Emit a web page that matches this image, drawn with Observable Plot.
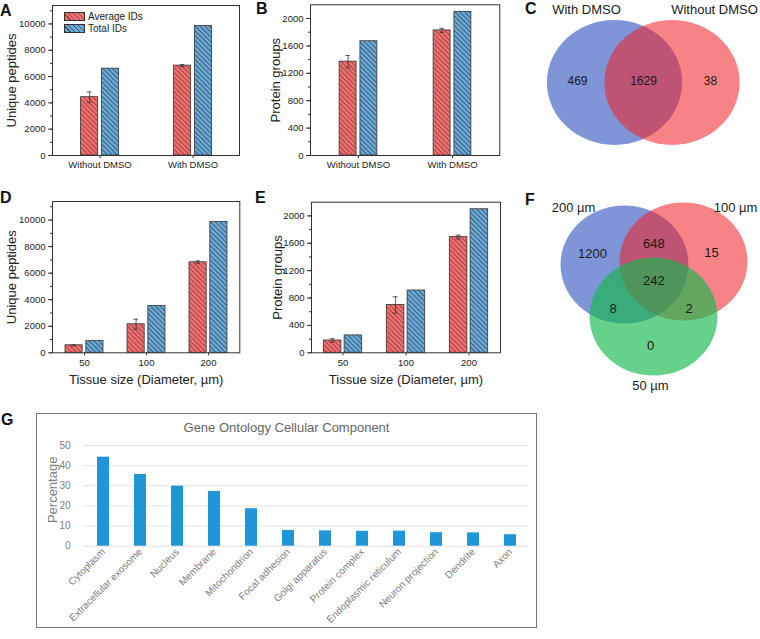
<!DOCTYPE html>
<html><head><meta charset="utf-8">
<script src="https://cdn.jsdelivr.net/npm/d3@7"></script>
<script src="https://cdn.jsdelivr.net/npm/@observablehq/plot@0.6"></script>
<style>
body{margin:0;background:#fff;font-family:"Liberation Sans",Arial,sans-serif;}
#fig{position:relative;width:760px;height:639px;overflow:hidden;background:#fff;}
.letter{position:absolute;font-weight:bold;font-size:16px;line-height:16px;color:#111;}
.sw{position:absolute;width:21px;height:9px;border:0.8px solid #333;box-sizing:border-box;}
.lt{position:absolute;font-size:10px;line-height:10px;color:#222;white-space:nowrap;}
</style></head>
<body><div id="fig"></div>
<script>
// ---------- data ----------
const dmsoGroups = ["Without DMSO", "With DMSO"];
const pepAvgDmso = [4430, 6830];
const pepErrDmso = [400, 80];
const pepTotDmso = [6600, 9850];
const protAvgDmso = [1370, 1826];
const protErrDmso = [90, 30];
const protTotDmso = [1668, 2096];

const sizeGroups = ["50", "100", "200"];
const pepAvgSize = [565, 2150, 6820];
const pepErrSize = [40, 380, 100];
const pepTotSize = [890, 3520, 9850];
const protAvgSize = [180, 698, 1690];
const protErrSize = [25, 120, 28];
const protTotSize = [254, 910, 2097];

const pepTicks = [0, 2000, 4000, 6000, 8000, 10000];
const protTicks = [0, 400, 800, 1200, 1600, 2000];
const seriesNames = ["Average IDs", "Total IDs"];

const vennCSets = ["With DMSO", "Without DMSO"];
const vennCCounts = [469, 1629, 38];
const vennFSets = ["200 µm", "100 µm", "50 µm"];
const vennFCounts = [1200, 648, 15, 242, 8, 2, 0];

const goTerms = ["Cytoplasm", "Extracellular exosome", "Nucleus", "Membrane", "Mitochondrion",
  "Focal adhesion", "Golgi apparatus", "Protein complex", "Endoplasmic reticulum",
  "Neuron projection", "Dendrite", "Axon"];
const goPct = [44.2, 35.6, 29.8, 27.2, 18.6, 7.8, 7.6, 7.4, 7.5, 6.7, 6.6, 5.7];
const goTicks = [0, 10, 20, 30, 40, 50];
const goTitle = "Gene Ontology Cellular Component";

// ---------- helpers ----------
const fig = document.getElementById("fig");
const NS = "http://www.w3.org/2000/svg";
const FONT = "'Liberation Sans', Arial, sans-serif";

function addPatterns(svg, id) {
  const defs = document.createElementNS(NS, "defs");
  defs.innerHTML =
    `<pattern id="hr-${id}" patternUnits="userSpaceOnUse" width="3.4" height="3.4" patternTransform="rotate(-45)">
       <rect width="3.4" height="3.4" fill="#ec7272"/>
       <line x1="0.5" y1="0" x2="0.5" y2="3.4" stroke="#a83838" stroke-width="0.9"/>
     </pattern>
     <pattern id="hb-${id}" patternUnits="userSpaceOnUse" width="3.4" height="3.4" patternTransform="rotate(-45)">
       <rect width="3.4" height="3.4" fill="#6fa9d6"/>
       <line x1="0.5" y1="0" x2="0.5" y2="3.4" stroke="#2c5674" stroke-width="0.9"/>
     </pattern>`;
  svg.insertBefore(defs, svg.firstChild);
}

function pos(left, top) {
  return {position: "absolute", left: left + "px", top: top + "px", background: "transparent",
    fontFamily: FONT, fontSize: "9.5px", color: "#222", overflow: "visible"};
}

function groupedBars(c) {
  const rows = c.groups.map((g, i) => ({group: g, avg: c.avg[i], err: c.err[i], tot: c.tot[i]}));
  const pw = c.width - c.ml - c.mr;
  const h = pw / c.groups.length / 2;
  const barW = 17.6, gap = 1.6;
  const redC = -(gap + barW / 2);
  const minor = d3.range(0, c.yMax, c.minorStep);
  const marks = [
    Plot.barY(rows, {x: "group", y: "avg", fill: `url(#hr-${c.id})`, stroke: "#333", strokeWidth: 0.8,
      insetLeft: h - gap - barW, insetRight: h + gap}),
    Plot.barY(rows, {x: "group", y: "tot", fill: `url(#hb-${c.id})`, stroke: "#333", strokeWidth: 0.8,
      insetLeft: h + gap, insetRight: h - gap - barW}),
    Plot.ruleX(rows, {x: "group", y1: d => d.avg - d.err, y2: d => d.avg + d.err, dx: redC, stroke: "#333", strokeWidth: 0.8}),
    Plot.tickY(rows, {x: "group", y: d => d.avg + d.err, insetLeft: h + redC - 2.5, insetRight: h - redC - 2.5, stroke: "#333", strokeWidth: 0.8}),
    Plot.tickY(rows, {x: "group", y: d => d.avg - d.err, insetLeft: h + redC - 2.5, insetRight: h - redC - 2.5, stroke: "#333", strokeWidth: 0.8}),
    Plot.frame({stroke: "#333", strokeWidth: 1}),
    Plot.axisY({ticks: minor, tickSize: 2, tickFormat: () => "", label: null, stroke: "#333"}),
    Plot.axisY({ticks: c.yTicks, tickSize: 4, tickPadding: 3, tickFormat: d => String(d), label: null, fontSize: 9.5, stroke: "#333"}),
    Plot.axisX({tickSize: 3, tickPadding: 3, label: null, fontSize: c.xFont, stroke: "#333"}),
    Plot.text([c.yLabel], {text: d => d, frameAnchor: "left", textAnchor: "middle", rotate: -90, lineAnchor: "top", dx: -c.labelOffset, fontSize: 13, fill: "#222"})
  ];
  if (c.xLabel) marks.push(Plot.text([c.xLabel], {text: d => d, frameAnchor: "bottom", textAnchor: "middle", lineAnchor: "bottom", dy: c.xLabelOffset, fontSize: 13, fill: "#222"}));
  const svg = Plot.plot({
    width: c.width, height: c.height,
    marginLeft: c.ml, marginRight: c.mr, marginTop: c.mt, marginBottom: c.mb,
    x: {type: "band", domain: c.groups, padding: 0},
    y: {domain: [0, c.yMax]},
    style: pos(c.left, c.top),
    marks
  });
  addPatterns(svg, c.id);
  fig.appendChild(svg);
}

groupedBars({id: "A", left: 0, top: 0, width: 250, height: 190, ml: 52, mr: 11, mt: 5, mb: 35,
  groups: dmsoGroups, avg: pepAvgDmso, err: pepErrDmso, tot: pepTotDmso,
  yMax: 11400, yTicks: pepTicks, minorStep: 1000, yLabel: "Unique peptides", labelOffset: 46, xFont: 9.5});
groupedBars({id: "B", left: 250, top: 0, width: 252, height: 190, ml: 60, mr: 2.7, mt: 4.3, mb: 35,
  groups: dmsoGroups, avg: protAvgDmso, err: protErrDmso, tot: protTotDmso,
  yMax: 2200, yTicks: protTicks, minorStep: 200, yLabel: "Protein groups", labelOffset: 40, xFont: 9.5});
groupedBars({id: "D", left: 0, top: 190, width: 250, height: 200, ml: 52, mr: 10.7, mt: 11, mb: 37.7,
  groups: sizeGroups, avg: pepAvgSize, err: pepErrSize, tot: pepTotSize,
  yMax: 11400, yTicks: pepTicks, minorStep: 1000, yLabel: "Unique peptides", labelOffset: 46, xFont: 9.5,
  xLabel: "Tissue size (Diameter, µm)", xLabelOffset: 31});
groupedBars({id: "E", left: 250, top: 190, width: 252, height: 200, ml: 61, mr: 2, mt: 11.7, mb: 37.7,
  groups: sizeGroups, avg: protAvgSize, err: protErrSize, tot: protTotSize,
  yMax: 2200, yTicks: protTicks, minorStep: 200, yLabel: "Protein groups", labelOffset: 39, xFont: 9.5,
  xLabel: "Tissue size (Diameter, µm)", xLabelOffset: 31});

// legend (panel A)
fig.insertAdjacentHTML("beforeend",
  `<div class="sw" style="left:64px;top:12px;background:repeating-linear-gradient(45deg,#a83838 0 0.9px,#ec7272 0.9px 3.4px)"></div>
   <div class="lt" style="left:88px;top:12px">${seriesNames[0]}</div>
   <div class="sw" style="left:64px;top:24px;background:repeating-linear-gradient(45deg,#2c5674 0 0.9px,#6fa9d6 0.9px 3.4px)"></div>
   <div class="lt" style="left:88px;top:24px">${seriesNames[1]}</div>`);

// ---------- Venn diagrams ----------
const ellipse = {
  draw(ctx, size) {
    const r = Math.sqrt(size / Math.PI), rx = r * 1.04, ry = r * 0.96, k = 0.5523;
    ctx.moveTo(rx, 0);
    ctx.bezierCurveTo(rx, k * ry, k * rx, ry, 0, ry);
    ctx.bezierCurveTo(-k * rx, ry, -rx, k * ry, -rx, 0);
    ctx.bezierCurveTo(-rx, -k * ry, -k * rx, -ry, 0, -ry);
    ctx.bezierCurveTo(k * rx, -ry, rx, -k * ry, rx, 0);
    ctx.closePath();
  }
};
const vennFills = [["rgb(60,90,195)", 0.65], ["rgb(240,30,35)", 0.55], ["rgb(20,185,75)", 0.65]];

function venn(c) {
  const circles = c.sets.map((s, i) => ({set: s, x: c.layout.circles[i][0], y: c.layout.circles[i][1]}));
  const counts = c.counts.map((n, i) => ({n, x: c.layout.counts[i][0], y: c.layout.counts[i][1]}));
  const titles = c.sets.map((s, i) => ({s, x: c.layout.titles[i][0], y: c.layout.titles[i][1]}));
  const marks = circles.map((d, i) => Plot.dot([d], {x: "x", y: "y", r: c.r, symbol: ellipse,
    fill: vennFills[i][0], fillOpacity: vennFills[i][1], stroke: "none"}));
  marks.push(Plot.text(counts, {x: "x", y: "y", text: d => String(d.n), fontSize: c.numSize, fill: "#1a1a1a"}));
  marks.push(Plot.text(titles, {x: "x", y: "y", text: "s", fontSize: 13, fill: "#1a1a1a"}));
  const svg = Plot.plot({
    width: c.width, height: c.height, margin: 0,
    x: {domain: [0, c.width], range: [0, c.width], axis: null},
    y: {domain: [0, c.height], range: [0, c.height], axis: null},
    style: pos(c.left, c.top),
    marks
  });
  fig.appendChild(svg);
}

venn({left: 500, top: 0, width: 260, height: 170, r: 65, numSize: 12,
  sets: vennCSets, counts: vennCCounts,
  layout: {circles: [[114, 82], [171.5, 82]], counts: [[77, 81], [143, 81], [210, 81]], titles: [[86, 9], [214, 9]]}});
venn({left: 500, top: 190, width: 260, height: 210, r: 61.5, numSize: 13,
  sets: vennFSets, counts: vennFCounts,
  layout: {circles: [[124, 74], [183, 71], [153, 126]],
    counts: [[92, 63], [153.3, 53], [211, 62], [153.3, 90], [112.5, 118], [188.5, 118], [150, 155]],
    titles: [[73, 17], [235, 17], [150, 195]]}});

// ---------- Panel G ----------
const goRows = goTerms.map((t, i) => ({term: t, pct: goPct[i]}));
fig.insertAdjacentHTML("beforeend",
  `<div style="position:absolute;left:36px;top:413px;width:501px;height:215px;border:1.3px solid #777;box-sizing:border-box"></div>
   <div style="position:absolute;left:36px;top:421px;width:501px;text-align:center;font-size:13px;line-height:14px;color:#666">${goTitle}</div>`);
const gSvg = Plot.plot({
  width: 501, height: 215, marginLeft: 48, marginRight: 9, marginTop: 32, marginBottom: 82.3,
  x: {type: "band", domain: goTerms, paddingInner: 0.68, paddingOuter: 0.34},
  y: {domain: [0, 50]},
  style: pos(36, 413),
  marks: [
    Plot.gridY({ticks: goTicks, stroke: "#e2e2e2", strokeOpacity: 1, strokeWidth: 1}),
    Plot.barY(goRows, {x: "term", y: "pct", fill: "#1e96d8"}),
    Plot.axisY({ticks: goTicks, tickSize: 0, tickPadding: 14, color: "#808080", fontSize: 10, label: null}),
    Plot.axisX({tickSize: 0, tickRotate: -45, tickPadding: 4, color: "#808080", fontSize: 10, label: null}),
    Plot.text(["Percentage"], {text: d => d, frameAnchor: "left", textAnchor: "middle", rotate: -90, lineAnchor: "top", dx: -37, dy: -6, fontSize: 13, fill: "#808080"})
  ]
});
fig.appendChild(gSvg);

// panel letters
const letters = [["A", 0, 3], ["B", 256, 1], ["C", 525, 1], ["D", 0, 190], ["E", 255, 190], ["F", 525, 192], ["G", 1, 412]];
letters.forEach(([t, x, y]) => fig.insertAdjacentHTML("beforeend", `<div class="letter" style="left:${x}px;top:${y}px">${t}</div>`));
</script></body></html>
